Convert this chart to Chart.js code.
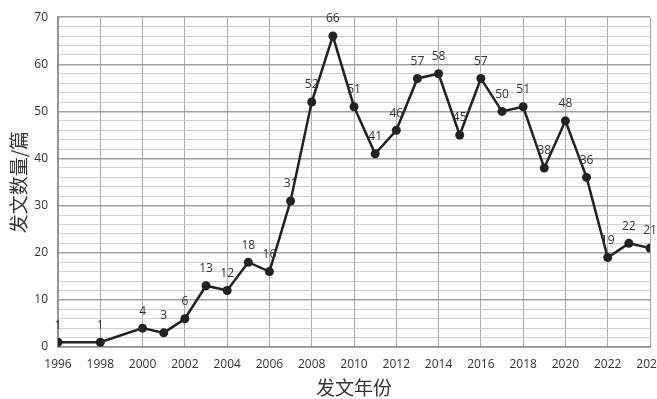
<!DOCTYPE html>
<html>
<head>
<meta charset="utf-8">
<script src="https://cdn.jsdelivr.net/npm/chart.js@4"></script>
<style>
  html, body { margin: 0; padding: 0; background: #fff; overflow: hidden; }
  #wrap { width: 657px; height: 399px; position: relative; }
</style>
</head>
<body>
<div id="wrap"><canvas id="lineChart"></canvas></div>
<script>
// years with counts (1997 and 1999 have no point)
var years  = [1996, 1998, 2000, 2001, 2002, 2003, 2004, 2005, 2006, 2007, 2008, 2009, 2010,
              2011, 2012, 2013, 2014, 2015, 2016, 2017, 2018, 2019, 2020, 2021, 2022, 2023, 2024];
var counts = [1, 1, 4, 3, 6, 13, 12, 18, 16, 31, 52, 66, 51,
              41, 46, 57, 58, 45, 57, 50, 51, 38, 48, 36, 19, 22, 21];
var xTitle = "发文年份";
var yTitle = "发文数量/篇";

var tickFont = { family: "'Open Sans', 'Liberation Sans', sans-serif", size: 12 };
var cjkFont = "'Noto Sans CJK SC', sans-serif";

// value labels above every point
var pointLabels = {
  id: "pointLabels",
  afterDatasetsDraw: function(chart){
    var ctx = chart.ctx;
    var meta = chart.getDatasetMeta(0);
    ctx.save();
    ctx.font = "12px 'Open Sans', 'Liberation Sans', sans-serif";
    ctx.fillStyle = "#333";
    ctx.textAlign = "center";
    ctx.textBaseline = "middle";
    for(var i = 0; i < meta.data.length; i++){
      var p = meta.data[i];
      ctx.fillText(String(counts[i]), p.x, p.y - 17);
    }
    ctx.restore();
  }
};

var pts = [];
for(var i = 0; i < years.length; i++){
  pts.push({x: years[i], y: counts[i]});
}

new Chart(document.getElementById("lineChart").getContext("2d"), {
  type: "line",
  data: {
    datasets: [{
      data: pts,
      borderColor: "#222",
      borderWidth: 2.5,
      backgroundColor: "#222",
      pointRadius: 4.5,
      pointBackgroundColor: "#222",
      pointBorderWidth: 0,
      tension: 0,
      fill: false
    }]
  },
  options: {
    responsive: true,
    maintainAspectRatio: false,
    animation: false,
    layout: { padding: { top: 11, right: 7, bottom: 0, left: 0 } },
    plugins: { legend: { display: false }, tooltip: { enabled: false } },
    scales: {
      x: {
        type: "linear",
        min: 1996,
        max: 2024,
        afterFit: function(s){ s.height = 52; s.paddingRight = 0; },
        ticks: {
          stepSize: 2,
          autoSkip: false,
          maxRotation: 0,
          padding: 10,
          color: "#333",
          font: tickFont,
          callback: function(v){ return String(v); }
        },
        grid: { color: "#a8a8a8", lineWidth: 1, drawTicks: false },
        border: { color: "#8c8c8c", width: 1.5 },
        title: {
          display: true,
          text: xTitle,
          color: "#333",
          font: { family: cjkFont, size: 19 },
          padding: { top: 2, bottom: 0 }
        }
      },
      y: {
        min: 0,
        max: 70,
        afterFit: function(s){ s.width = 58; },
        ticks: {
          stepSize: 2,
          autoSkip: false,
          padding: 10,
          color: "#333",
          font: tickFont,
          callback: function(v){ return v % 10 === 0 ? String(v) : ""; }
        },
        grid: {
          drawTicks: false,
          color: function(c){ return c.tick && c.tick.value % 10 === 0 ? "#a0a0a0" : "#d0d0d0"; },
          lineWidth: function(c){ return c.tick && c.tick.value % 10 === 0 ? 1.5 : 1; }
        },
        border: { color: "#8c8c8c", width: 1.5 },
        title: {
          display: true,
          text: yTitle,
          color: "#333",
          font: { family: cjkFont, size: 19 },
          padding: { top: 7, bottom: 0 }
        }
      }
    }
  },
  plugins: [pointLabels]
});
</script>
</body>
</html>
